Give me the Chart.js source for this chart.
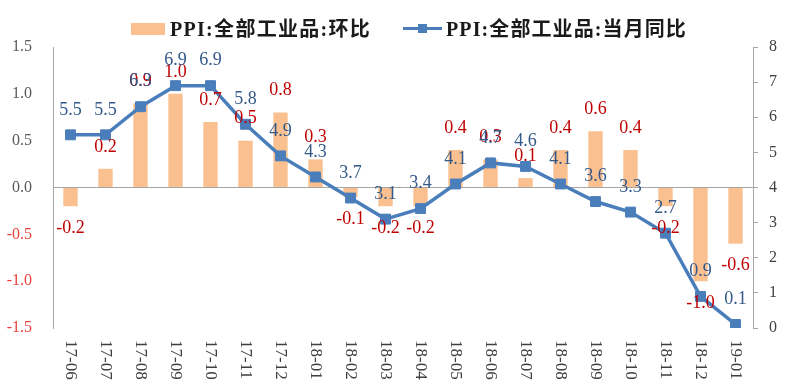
<!DOCTYPE html>
<html>
<head>
<meta charset="utf-8">
<script src="https://cdn.jsdelivr.net/npm/chart.js@4.4.1/dist/chart.umd.min.js"></script>
<style>
  html, body { margin: 0; padding: 0; background: #ffffff; }
  #wrap { position: relative; width: 809px; height: 382px; overflow: hidden; }
  #c { position: absolute; left: 0; top: 0; }
  .lg { position: absolute; font-family: "Liberation Serif", "Noto Sans CJK SC", serif; font-weight: bold; font-size: 20px; color: #1a1a1a; line-height: 22px; white-space: nowrap; }
  .sw-bar { position: absolute; left: 131px; top: 23px; width: 34px; height: 12px; background: #fac090; }
  .sw-line { position: absolute; left: 403px; top: 27px; width: 39px; height: 3px; background: #4a7ebb; }
  .sw-pt { position: absolute; left: 418px; top: 24px; width: 9px; height: 9px; background: #4a7ebb; }
</style>
</head>
<body>
<div id="wrap">
  <canvas id="c" width="809" height="382"></canvas>
  <div class="sw-bar"></div>
  <div class="lg" id="lg1" style="left:170px; top:18px; letter-spacing:1.3px;">PPI:全部工业品:环比</div>
  <div class="sw-line"></div>
  <div class="sw-pt"></div>
  <div class="lg" id="lg2" style="left:446px; top:18px; letter-spacing:1.1px;">PPI:全部工业品:当月同比</div>
</div>
<script>
const categories = ["17-06","17-07","17-08","17-09","17-10","17-11","17-12","18-01","18-02","18-03","18-04","18-05","18-06","18-07","18-08","18-09","18-10","18-11","18-12","19-01"];
const momValues = [-0.2, 0.2, 0.9, 1.0, 0.7, 0.5, 0.8, 0.3, -0.1, -0.2, -0.2, 0.4, 0.3, 0.1, 0.4, 0.6, 0.4, -0.2, -1.0, -0.6];
const yoyValues = [5.5, 5.5, 6.3, 6.9, 6.9, 5.8, 4.9, 4.3, 3.7, 3.1, 3.4, 4.1, 4.7, 4.6, 4.1, 3.6, 3.3, 2.7, 0.9, 0.1];
const leftAxis = { min: -1.5, max: 1.5, step: 0.5 };
const rightAxis = { min: 0, max: 8, step: 1 };

const SERIF = '"Liberation Serif", "Times New Roman", serif';

const labelPlugin = {
  id: 'valueLabels',
  afterDatasetsDraw(chart) {
    const ctx = chart.ctx;
    ctx.save();
    ctx.font = '18px ' + SERIF;
    ctx.textAlign = 'center';
    ctx.textBaseline = 'middle';
    const barMeta = chart.getDatasetMeta(0);
    barMeta.data.forEach((el, i) => {
      const v = momValues[i];
      const y = v >= 0 ? el.y - 22 : el.y + 22;
      ctx.fillStyle = '#c00000';
      ctx.fillText(v.toFixed(1), el.x, y);
    });
    const lineMeta = chart.getDatasetMeta(1);
    lineMeta.data.forEach((el, i) => {
      ctx.fillStyle = '#33598a';
      ctx.fillText(yoyValues[i].toFixed(1), el.x, el.y - 25);
    });
    ctx.restore();
  },
  afterDraw(chart) {
    const ctx = chart.ctx;
    const xs = chart.scales.x;
    ctx.save();
    ctx.font = '17px ' + SERIF;
    ctx.fillStyle = '#404040';
    ctx.textAlign = 'left';
    ctx.textBaseline = 'middle';
    categories.forEach((c, i) => {
      const x = xs.getPixelForTick(i);
      ctx.save();
      ctx.translate(x, chart.chartArea.bottom + 12);
      ctx.rotate(Math.PI / 2);
      ctx.fillText(c, 0, 0);
      ctx.restore();
    });
    ctx.restore();
  }
};

new Chart(document.getElementById('c'), {
  type: 'bar',
  data: {
    labels: categories,
    datasets: [
      {
        type: 'bar',
        label: 'PPI:全部工业品:环比',
        data: momValues,
        yAxisID: 'y',
        backgroundColor: '#fac090',
        borderWidth: 0,
        barPercentage: 0.41,
        categoryPercentage: 1.0,
        order: 1
      },
      {
        type: 'line',
        label: 'PPI:全部工业品:当月同比',
        data: yoyValues,
        yAxisID: 'y1',
        borderColor: '#4a7ebb',
        borderWidth: 3.5,
        backgroundColor: '#4a7ebb',
        pointStyle: 'rect',
        pointRadius: 7,
        pointBackgroundColor: '#4a7ebb',
        pointBorderColor: '#4a7ebb',
        pointBorderWidth: 1,
        tension: 0,
        fill: false,
        order: 0
      }
    ]
  },
  options: {
    responsive: false,
    animation: false,
    devicePixelRatio: 1,
    layout: { padding: { top: 47, left: 0, right: 0, bottom: 0 } },
    plugins: {
      legend: { display: false },
      tooltip: { enabled: false }
    },
    scales: {
      x: {
        grid: { display: false },
        border: { display: false },
        ticks: { display: false },
        afterFit(scale) { scale.height = 54; }
      },
      y: {
        position: 'left',
        min: leftAxis.min,
        max: leftAxis.max,
        ticks: {
          stepSize: leftAxis.step,
          padding: 21,
          font: { family: SERIF, size: 16 },
          color: (ctx) => (ctx.tick && ctx.tick.value < 0 ? '#e8413c' : '#595959'),
          callback: (v) => Number(v).toFixed(1)
        },
        grid: {
          drawTicks: false,
          color: (ctx) => (ctx.tick && Math.abs(ctx.tick.value) < 1e-9 ? '#a6a6a6' : 'rgba(0,0,0,0)'),
          lineWidth: 1
        },
        border: { display: true, color: '#a6a6a6', width: 1 },
        afterFit(scale) { scale.width = 53; }
      },
      y1: {
        position: 'right',
        min: rightAxis.min,
        max: rightAxis.max,
        ticks: {
          stepSize: rightAxis.step,
          padding: 11,
          font: { family: SERIF, size: 16 },
          color: '#404040'
        },
        grid: {
          drawOnChartArea: false,
          drawTicks: true,
          tickLength: 5,
          color: '#a6a6a6'
        },
        border: { display: true, color: '#a6a6a6', width: 1 },
        afterFit(scale) { scale.width = 56; }
      }
    }
  },
  plugins: [labelPlugin]
});
</script>
</body>
</html>
